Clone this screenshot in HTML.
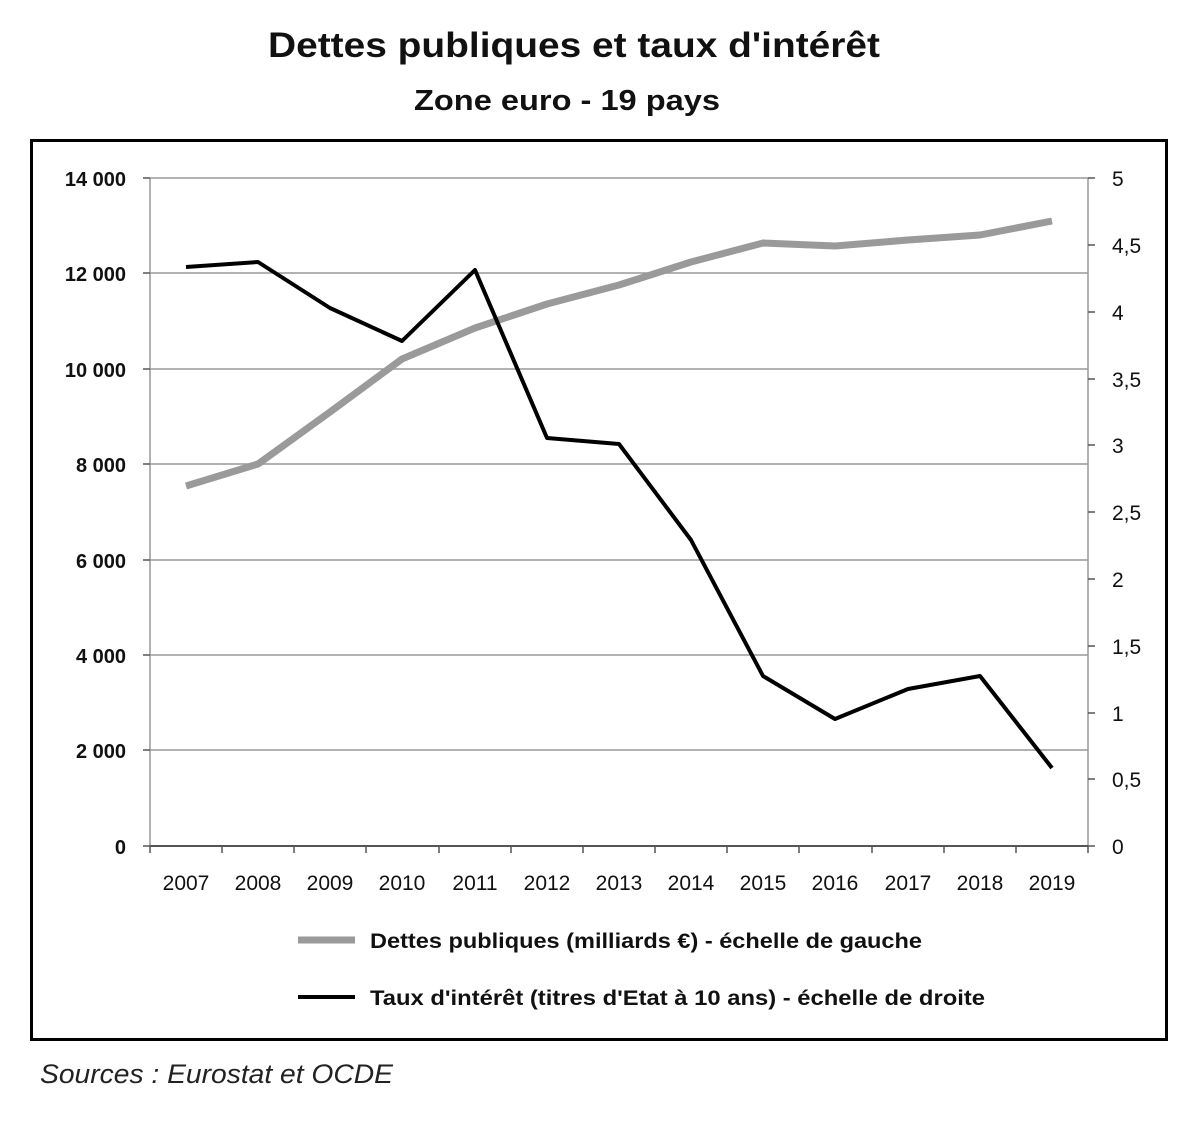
<!DOCTYPE html>
<html><head><meta charset="utf-8"><style>
html,body{margin:0;padding:0;background:#fff;}
svg{display:block}
text{font-family:"Liberation Sans",sans-serif;}
</style></head><body>
<svg width="1200" height="1121" viewBox="0 0 1200 1121" xmlns="http://www.w3.org/2000/svg">
<text x="574" y="57" font-size="35" font-weight="bold" text-anchor="middle" fill="#111" textLength="612" lengthAdjust="spacingAndGlyphs">Dettes publiques et taux d'intérêt</text>
<text x="567" y="110" font-size="29" font-weight="bold" text-anchor="middle" fill="#111" textLength="306" lengthAdjust="spacingAndGlyphs">Zone euro - 19 pays</text>
<rect x="31.5" y="140.5" width="1135" height="899" fill="none" stroke="#000" stroke-width="3"/>
<g stroke="#999" stroke-width="1.5">
<line x1="150" y1="178" x2="1088" y2="178"/>
<line x1="150" y1="273" x2="1088" y2="273"/>
<line x1="150" y1="369" x2="1088" y2="369"/>
<line x1="150" y1="464" x2="1088" y2="464"/>
<line x1="150" y1="560" x2="1088" y2="560"/>
<line x1="150" y1="655" x2="1088" y2="655"/>
<line x1="150" y1="750" x2="1088" y2="750"/>
<line x1="150" y1="178" x2="150" y2="846"/>
<line x1="1088" y1="178" x2="1088" y2="846"/>
</g>
<line x1="150" y1="846" x2="1088" y2="846" stroke="#555" stroke-width="2"/>
<g stroke="#555" stroke-width="1.5">
<line x1="143" y1="178" x2="150" y2="178"/><line x1="143" y1="273" x2="150" y2="273"/><line x1="143" y1="369" x2="150" y2="369"/><line x1="143" y1="464" x2="150" y2="464"/><line x1="143" y1="560" x2="150" y2="560"/><line x1="143" y1="655" x2="150" y2="655"/><line x1="143" y1="750" x2="150" y2="750"/><line x1="143" y1="846" x2="150" y2="846"/>
<line x1="1088" y1="178" x2="1095" y2="178"/><line x1="1088" y1="245" x2="1095" y2="245"/><line x1="1088" y1="312" x2="1095" y2="312"/><line x1="1088" y1="379" x2="1095" y2="379"/><line x1="1088" y1="445" x2="1095" y2="445"/><line x1="1088" y1="512" x2="1095" y2="512"/><line x1="1088" y1="579" x2="1095" y2="579"/><line x1="1088" y1="646" x2="1095" y2="646"/><line x1="1088" y1="713" x2="1095" y2="713"/><line x1="1088" y1="779" x2="1095" y2="779"/><line x1="1088" y1="846" x2="1095" y2="846"/>
<line x1="150" y1="846" x2="150" y2="853"/><line x1="222" y1="846" x2="222" y2="853"/><line x1="294" y1="846" x2="294" y2="853"/><line x1="366" y1="846" x2="366" y2="853"/><line x1="439" y1="846" x2="439" y2="853"/><line x1="511" y1="846" x2="511" y2="853"/><line x1="583" y1="846" x2="583" y2="853"/><line x1="655" y1="846" x2="655" y2="853"/><line x1="727" y1="846" x2="727" y2="853"/><line x1="799" y1="846" x2="799" y2="853"/><line x1="872" y1="846" x2="872" y2="853"/><line x1="944" y1="846" x2="944" y2="853"/><line x1="1016" y1="846" x2="1016" y2="853"/><line x1="1088" y1="846" x2="1088" y2="853"/>
</g>
<g font-size="20" font-weight="bold" text-anchor="end" fill="#111">
<text x="126" y="186">14 000</text><text x="126" y="281">12 000</text><text x="126" y="377">10 000</text><text x="126" y="472">8 000</text><text x="126" y="568">6 000</text><text x="126" y="663">4 000</text><text x="126" y="758">2 000</text><text x="126" y="854">0</text>
</g>
<g font-size="21" fill="#111">
<text x="1112" y="186">5</text><text x="1112" y="253">4,5</text><text x="1112" y="320">4</text><text x="1112" y="387">3,5</text><text x="1112" y="453">3</text><text x="1112" y="520">2,5</text><text x="1112" y="587">2</text><text x="1112" y="654">1,5</text><text x="1112" y="721">1</text><text x="1112" y="787">0,5</text><text x="1112" y="854">0</text>
</g>
<g font-size="21" text-anchor="middle" fill="#111">
<text x="186" y="890">2007</text><text x="258" y="890">2008</text><text x="330" y="890">2009</text><text x="402" y="890">2010</text><text x="475" y="890">2011</text><text x="547" y="890">2012</text><text x="619" y="890">2013</text><text x="691" y="890">2014</text><text x="763" y="890">2015</text><text x="835" y="890">2016</text><text x="908" y="890">2017</text><text x="980" y="890">2018</text><text x="1052" y="890">2019</text>
</g>
<polyline fill="none" stroke="#9a9a9a" stroke-width="7" stroke-linejoin="round" points="186,486 258,464 330,412 402,359 475,328 547,304 619,285 691,262 763,243 835,246 908,240 980,235 1052,221"/>
<polyline fill="none" stroke="#000" stroke-width="4" stroke-linejoin="round" points="186,267 258,262 330,308 402,341 475,270 547,438 619,444 691,540 763,676 835,719 908,689 980,676 1052,768"/>
<line x1="298" y1="940" x2="355" y2="940" stroke="#9a9a9a" stroke-width="7"/>
<text x="370" y="948" font-size="21" font-weight="bold" fill="#111" textLength="552" lengthAdjust="spacingAndGlyphs">Dettes publiques (milliards €) - échelle de gauche</text>
<line x1="298" y1="997" x2="355" y2="997" stroke="#000" stroke-width="4"/>
<text x="370" y="1005" font-size="21" font-weight="bold" fill="#111" textLength="615" lengthAdjust="spacingAndGlyphs">Taux d'intérêt (titres d'Etat à 10 ans) - échelle de droite</text>
<text x="40" y="1083" font-size="27" font-style="italic" fill="#222" textLength="353" lengthAdjust="spacingAndGlyphs">Sources : Eurostat et OCDE</text>
</svg>
</body></html>
